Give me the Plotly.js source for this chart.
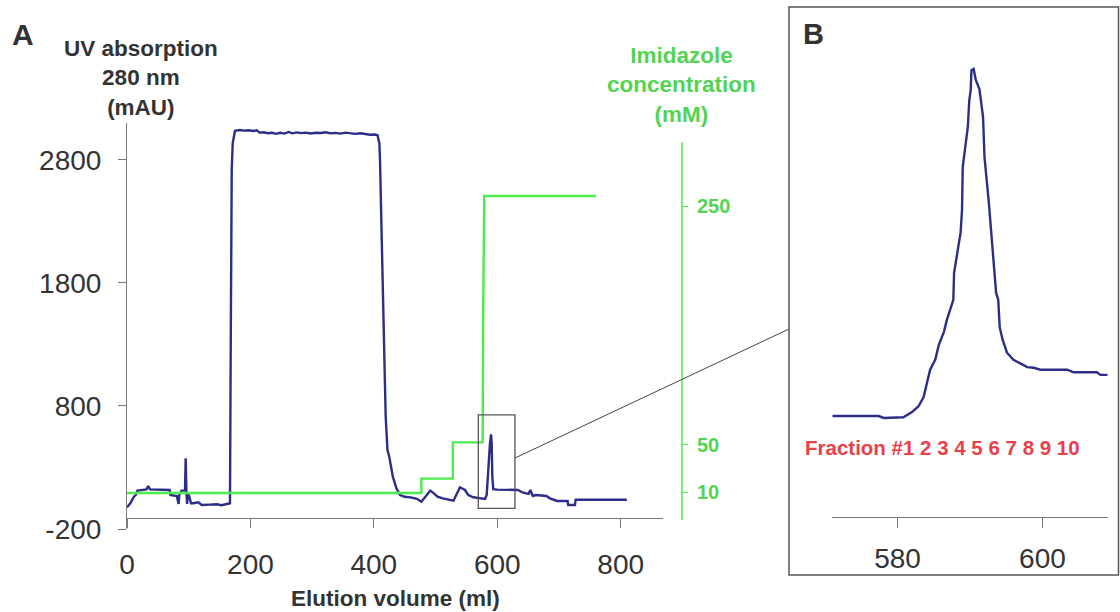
<!DOCTYPE html>
<html>
<head>
<meta charset="utf-8">
<script src="https://cdn.plot.ly/plotly-3.0.1.min.js"></script>
<style>html,body{margin:0;padding:0;background:#fff;}#chart{width:1120px;height:612px;}</style>
</head>
<body>
<div id="chart"></div>
<script>
// ---- Panel A: UV absorption (mAU) vs elution volume (ml)
const uvVolume = [0,5.4,11.2,14.1,17,25.7,31.5,34.4,37.3,69.1,70.3,80.7,82.4,83.6,84.7,88.2,94,95.1,96.3,97.4,98.6,100.9,103.8,107.5,115.6,121,134.5,145.3,153.5,161.5,165.8,166.9,
  168,169.7,171.3,173.4,175,
  183,190,197,205,210,215,222,228,235,242,248,255,262,268,275,282,290,298,306,314,322,330,338,346,354,362,370,378,386,394,402,406,
  409,410,413.2,415.6,417.4,419.2,422.1,425,427.9,430.8,436.6,442.4,450,459.7,470,477.1,
  485.8,491.5,497.3,503.1,511.8,520.5,529.2,532.1,539.6,547.7,553.1,561.2,572,580.1,582.9,585.5,588.2,589.9,591,592,593.6,600,633.3,642,650.7,653.6,657.6,662.3,679.6,685.4,697,714,715,726,727,810];
const uvAbs = [-24,9,63,76,112,117,122,150,122,117,76,68,22,3,76,112,112,374,90,3,90,63,9,9,17,-5,-2,1,-7,1,9,9,
  1200,2718,2935,3016,3037,
  3043,3038,3041,3035,3040,3022,3025,3017,3021,3012,3020,3014,3027,3016,3024,3018,3022,3015,3021,3019,3025,3016,3020,3014,3022,3017,3012,3016,3008,3004,3006,3000,
  2935,2799,2067,1499,1011,713,442,388,306,225,131,76,62,57,45,22,
  76,112,90,63,49,41,30,63,139,117,76,58,50,44,76,306,497,570,497,225,123,120,117,95,85,117,68,76,68,49,28,28,-5,-5,38,38];

// Imidazole step gradient (mM)
const imVolume = [0,477,477,528,528,576.4,577,578.9,760];
const imConc   = [9.5,9.5,21.6,21.6,52,52,150,258.7,258.7];

// ---- Panel B: zoom on the eluted peak
const bVolume = [571,577.4,578.1,580.1,580.8,582,582.9,583.6,584.1,584.5,585.2,585.7,586.4,586.8,587.7,587.8,588.7,588.9,589,589.3,589.7,589.9,590.1,590.2,590.5,590.8,591.3,591.8,592,592.6,592.9,593.2,593.6,593.9,594.1,594.5,595.1,596,597.9,598.8,599.7,603.4,604.3,607.5,608,609];
const bAbs    = [42,42,39,39,40,48,57,71,93,113,128,151,171,189,220,261,323,358,424,454,485,526,542,572,574,557,543,500,439,369,323,277,231,220,178,159,139,128,117,116,113,113,109,109,105,105];

// tick labels
const uvTicks = [-200, 800, 1800, 2800];
const volTicks = [0, 200, 400, 600, 800];
const imTicks = [10, 50, 250];
const bTicks = [580, 600];
const fractionLabel = "Fraction #1 2 3 4 5 6 7 8 9 10";

const W = 1120, H = 612;
const px = x => x / W;
const py = y => 1 - y / H;

const FONT = "Liberation Sans, Arial, Helvetica, sans-serif";
const NAVY = "#2c2d86";
const GREEN = "#4deb4d";
const GREEN_TXT = "#52d452";
const DARK = "#333333";
const AXIS = "#7a7a7a";

const traces = [
  {x: uvVolume, y: uvAbs, type: "scatter", mode: "lines", line: {color: NAVY, width: 2.4}, xaxis: "x", yaxis: "y", hoverinfo: "skip"},
  {x: imVolume, y: imConc, type: "scatter", mode: "lines", line: {color: GREEN, width: 2.4}, xaxis: "x", yaxis: "y2", hoverinfo: "skip"},
  {x: bVolume, y: bAbs, type: "scatter", mode: "lines", line: {color: NAVY, width: 2.4}, xaxis: "x3", yaxis: "y3", hoverinfo: "skip"}
];

const layout = {
  width: W, height: H,
  margin: {l: 0, r: 0, t: 0, b: 0},
  paper_bgcolor: "#fff", plot_bgcolor: "rgba(0,0,0,0)",
  showlegend: false,
  font: {family: FONT, color: DARK},
  xaxis: {
    domain: [px(127), px(663)], range: [0, 868.6],
    anchor: "free", position: py(518.3),
    showline: true, linecolor: AXIS, linewidth: 1,
    ticks: "outside", ticklen: 9, tickcolor: AXIS, tickwidth: 1,
    tickvals: volTicks, ticktext: volTicks.map(String),
    tickfont: {family: FONT, size: 28, color: DARK},
    ticklabelstandoff: 12,
    showgrid: false, zeroline: false
  },
  yaxis: {
    domain: [py(529), py(123)], range: [-200, 3100],
    anchor: "x",
    showline: true, linecolor: AXIS, linewidth: 1,
    ticks: "outside", ticklen: 8, tickcolor: AXIS, tickwidth: 1,
    tickvals: uvTicks, ticktext: uvTicks.map(String),
    tickfont: {family: FONT, size: 28, color: DARK},
    ticklabelstandoff: 11,
    showgrid: false, zeroline: false
  },
  yaxis2: {
    overlaying: "y", side: "right", anchor: "free", position: px(682),
    range: [-20.64, 319.97],
    showline: false,
    ticks: "outside", ticklen: 5, tickcolor: GREEN, tickwidth: 1,
    tickvals: imTicks, ticktext: imTicks.map(String),
    tickfont: {family: FONT, size: 20, color: GREEN_TXT, weight: "bold"},
    ticklabelstandoff: 5,
    showgrid: false, zeroline: false
  },
  xaxis3: {
    domain: [px(832.3), px(1107.7)], range: [571, 609],
    anchor: "y3",
    showline: true, linecolor: AXIS, linewidth: 1,
    ticks: "outside", ticklen: 10, tickcolor: AXIS, tickwidth: 1,
    tickvals: bTicks, ticktext: bTicks.map(String),
    tickfont: {family: FONT, size: 28, color: DARK},
    ticklabelstandoff: 6,
    showgrid: false, zeroline: false
  },
  yaxis3: {
    domain: [py(517), py(60)], range: [-112.8, 587.7],
    anchor: "x3", visible: false, showgrid: false, zeroline: false
  },
  shapes: [
    // imidazole axis line
    {type: "line", xref: "paper", yref: "y2", x0: px(682), x1: px(682), y0: -13, y1: 304, line: {color: GREEN, width: 1.5}},
    // zoom box in panel A
    {type: "rect", xref: "x", yref: "y", x0: 569.3, x1: 628.7, y0: -32, y1: 727, line: {color: "#555", width: 1.3}},
    // connector to panel B
    {type: "line", xref: "paper", yref: "paper", x0: px(515), y0: py(458), x1: px(789), y1: py(329), line: {color: "#444", width: 1}},
    // panel B frame
    {type: "rect", xref: "paper", yref: "paper", x0: px(789), x1: px(1118.5), y0: py(575), y1: py(7), line: {color: "#555", width: 1.5}}
  ],
  annotations: [
    {xref: "paper", yref: "paper", x: px(22.5), y: py(34), text: "A", showarrow: false, xanchor: "center", yanchor: "middle",
     font: {family: FONT, size: 30, color: DARK, weight: "bold"}},
    {xref: "paper", yref: "paper", x: px(813.5), y: py(34), text: "B", showarrow: false, xanchor: "center", yanchor: "middle",
     font: {family: FONT, size: 29, color: DARK, weight: "bold"}},
    {xref: "paper", yref: "paper", x: px(141), y: py(78), text: "UV absorption<br>280 nm<br>(mAU)", showarrow: false,
     xanchor: "center", yanchor: "middle", align: "center",
     font: {family: FONT, size: 22.5, color: DARK, weight: "bold"}},
    {xref: "paper", yref: "paper", x: px(681), y: py(85), text: "Imidazole<br>concentration<br>(mM)", showarrow: false,
     xanchor: "center", yanchor: "middle", align: "center",
     font: {family: FONT, size: 22.5, color: GREEN_TXT, weight: "bold"}},
    {xref: "paper", yref: "paper", x: px(395), y: py(598), text: "Elution volume (ml)", showarrow: false,
     xanchor: "center", yanchor: "middle",
     font: {family: FONT, size: 22.5, color: DARK, weight: "bold"}},
    {xref: "paper", yref: "paper", x: px(803), y: py(447), text: fractionLabel, showarrow: false,
     xanchor: "left", yanchor: "middle",
     font: {family: FONT, size: 20.5, color: "#e8404c", weight: "bold"}}
  ]
};

Plotly.newPlot("chart", traces, layout, {displayModeBar: false, staticPlot: true});
</script>
</body>
</html>
